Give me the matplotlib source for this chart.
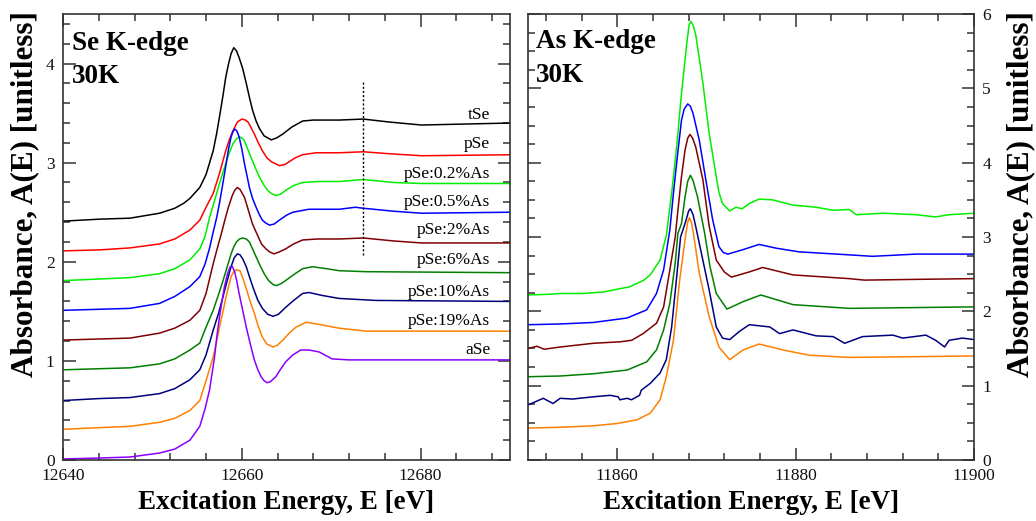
import matplotlib
matplotlib.use("Agg")
import matplotlib.pyplot as plt
from matplotlib.ticker import MultipleLocator

plt.rcParams['font.family'] = ['Liberation Serif', 'DejaVu Serif']

# ---------------- Se K-edge (left panel) ----------------
se_tSe_E = [12640, 12644.1, 12647.5, 12650.8, 12652.5, 12653.5, 12654.2, 12655.3, 12656.0, 12656.8, 12657.2,
            12657.5, 12657.9, 12658.2, 12658.5, 12658.8, 12659.1, 12659.4, 12659.7, 12660.1, 12660.5, 12660.85,
            12661.2, 12661.6, 12662.0, 12662.5, 12663.3, 12663.9, 12664.6, 12665.6, 12666.8, 12668.0, 12670.9,
            12673.6, 12676.5, 12680.1, 12690]
se_tSe_A = [2.41, 2.43, 2.44, 2.49, 2.54, 2.59, 2.64, 2.75, 2.88, 3.12, 3.30,
            3.46, 3.68, 3.86, 3.99, 4.10, 4.16, 4.13, 4.06, 3.95, 3.80, 3.66,
            3.53, 3.42, 3.34, 3.27, 3.23, 3.25, 3.29, 3.36, 3.42, 3.43, 3.43,
            3.44, 3.41, 3.38, 3.40]

se_pSe_E = [12640, 12644.1, 12647.5, 12650.8, 12652.5, 12654.2, 12655.3, 12656.0, 12656.8, 12657.5, 12658.2,
            12658.6, 12659.0, 12659.5, 12660.0, 12660.4, 12660.7, 12661.0, 12661.4, 12661.8, 12662.3, 12662.8,
            12663.3, 12664.2, 12664.8, 12665.3, 12666.0, 12666.8, 12668.3, 12670.9, 12673.6, 12676.5, 12680.1, 12690]
se_pSe_A = [2.11, 2.12, 2.14, 2.18, 2.23, 2.32, 2.42, 2.55, 2.69, 2.89, 3.12,
            3.23, 3.32, 3.41, 3.44, 3.43, 3.41, 3.36, 3.29, 3.21, 3.12, 3.05,
            3.01, 2.97, 2.98, 3.01, 3.05, 3.08, 3.10, 3.10, 3.11, 3.09, 3.07, 3.08]

se_p02_E = [12640, 12647.5, 12650.8, 12652.5, 12654.2, 12655.3, 12655.9, 12656.4, 12657.0, 12657.5, 12658.2,
            12658.6, 12659.0, 12659.4, 12659.7, 12660.0, 12660.3, 12660.6, 12661.0, 12661.5, 12662.0, 12662.5,
            12662.9, 12663.3, 12663.75, 12664.3, 12664.9, 12665.8, 12666.8, 12668.5, 12670.9, 12673.6, 12677.0,
            12680.1, 12690]
se_p02_A = [1.81, 1.84, 1.88, 1.93, 2.02, 2.13, 2.26, 2.45, 2.63, 2.79, 2.99,
            3.10, 3.19, 3.24, 3.26, 3.25, 3.22, 3.15, 3.06, 2.95, 2.85, 2.77,
            2.72, 2.69, 2.67, 2.68, 2.72, 2.77, 2.80, 2.81, 2.81, 2.83, 2.80,
            2.79, 2.79]

se_p05_E = [12640, 12647.5, 12650.8, 12652.5, 12654.2, 12655.3, 12655.9, 12656.4, 12656.8, 12657.2, 12657.5,
            12657.9, 12658.25, 12658.5, 12658.8, 12659.0, 12659.2, 12659.45, 12659.7, 12660.0, 12660.3, 12660.6,
            12660.85, 12661.2, 12661.6, 12662.0, 12662.3, 12662.7, 12663.1, 12663.6, 12664.2, 12665.0, 12665.7,
            12667.5, 12670.9, 12672.7, 12673.6, 12677.0, 12680.1, 12690]
se_p05_A = [1.51, 1.53, 1.58, 1.65, 1.75, 1.85, 1.98, 2.14, 2.30, 2.45, 2.59,
            2.80, 2.99, 3.13, 3.26, 3.31, 3.34, 3.32, 3.26, 3.14, 2.99, 2.86,
            2.75, 2.64, 2.55, 2.47, 2.42, 2.39, 2.37, 2.38, 2.42, 2.47, 2.50,
            2.53, 2.53, 2.55, 2.54, 2.51, 2.49, 2.50]

se_p2_E = [12640, 12647.5, 12650.8, 12652.5, 12654.2, 12655.3, 12656.0, 12656.8, 12657.3, 12657.7, 12658.1,
           12658.5, 12658.9, 12659.2, 12659.5, 12659.8, 12660.3, 12660.7, 12661.2, 12661.8, 12662.2, 12662.7,
           12663.1, 12663.6, 12664.2, 12664.9, 12665.8, 12666.8, 12668.5, 12670.9, 12673.6, 12677.0, 12680.1, 12690]
se_p2_A = [1.21, 1.23, 1.28, 1.33, 1.41, 1.51, 1.68, 1.98, 2.15, 2.28, 2.42,
           2.55, 2.66, 2.72, 2.75, 2.73, 2.65, 2.53, 2.38, 2.26, 2.18, 2.13,
           2.10, 2.08, 2.10, 2.13, 2.18, 2.22, 2.23, 2.23, 2.24, 2.21, 2.19, 2.19]

se_p6_E = [12640, 12647.5, 12650.8, 12652.5, 12654.2, 12655.3, 12656.0, 12656.8, 12657.4, 12657.9, 12658.4,
           12658.8, 12659.1, 12659.4, 12659.75, 12660.1, 12660.5, 12660.85, 12661.2, 12661.6, 12662.0, 12662.5,
           12663.0, 12663.5, 12663.9, 12664.4, 12664.9, 12665.8, 12666.8, 12667.9, 12669.5, 12670.9, 12673.9, 12690]
se_p6_A = [0.91, 0.93, 0.97, 1.02, 1.11, 1.18, 1.34, 1.51, 1.67, 1.81, 1.96,
           2.08, 2.15, 2.20, 2.23, 2.24, 2.23, 2.20, 2.13, 2.05, 1.97, 1.88,
           1.81, 1.77, 1.76, 1.78, 1.81, 1.87, 1.93, 1.95, 1.93, 1.91, 1.90, 1.89]

se_p10_E = [12640, 12644.1, 12647.5, 12650.8, 12652.5, 12654.2, 12655.3, 12656.0, 12656.8, 12657.4, 12657.9,
            12658.4, 12658.8, 12659.15, 12659.5, 12659.8, 12660.1, 12660.5, 12660.85, 12661.3, 12661.8, 12662.3,
            12662.9, 12663.5, 12664.1, 12664.9, 12665.8, 12666.8, 12667.5, 12669.0, 12670.9, 12675.0, 12690]
se_p10_A = [0.60, 0.62, 0.63, 0.67, 0.72, 0.81, 0.91, 1.06, 1.31, 1.48, 1.65,
            1.82, 1.95, 2.04, 2.08, 2.07, 2.03, 1.95, 1.85, 1.73, 1.61, 1.53,
            1.47, 1.45, 1.47, 1.54, 1.61, 1.68, 1.69, 1.66, 1.63, 1.61, 1.60]

se_p19_E = [12640, 12647.5, 12650.8, 12652.5, 12654.2, 12655.3, 12656.0, 12656.8, 12657.2, 12657.5, 12657.9,
            12658.25, 12658.55, 12658.8, 12659.1, 12659.4, 12659.8, 12660.1, 12660.5, 12660.9, 12661.4, 12661.8,
            12662.3, 12662.8, 12663.5, 12664.0, 12664.6, 12665.3, 12666.05, 12667.2, 12668.5, 12670.9, 12673.9, 12690]
se_p19_A = [0.31, 0.34, 0.38, 0.42, 0.50, 0.60, 0.80, 1.04, 1.20, 1.34, 1.50,
            1.65, 1.76, 1.85, 1.90, 1.92, 1.91, 1.84, 1.73, 1.61, 1.48, 1.36,
            1.24, 1.17, 1.14, 1.16, 1.21, 1.28, 1.34, 1.39, 1.37, 1.33, 1.30, 1.30]

se_aSe_E = [12640, 12644.1, 12647.5, 12650.8, 12652.5, 12654.2, 12655.3, 12655.9, 12656.4, 12656.95, 12657.2,
            12657.5, 12657.8, 12658.06, 12658.4, 12658.7, 12658.95, 12659.2, 12659.45, 12659.7, 12660.1, 12660.5,
            12660.95, 12661.4, 12661.8, 12662.15, 12662.5, 12662.8, 12663.2, 12663.8, 12664.3, 12664.9, 12665.7,
            12666.6, 12667.5, 12668.65, 12670.1, 12672.0, 12690]
se_aSe_A = [0.01, 0.02, 0.03, 0.07, 0.11, 0.20, 0.34, 0.52, 0.71, 1.04, 1.24,
            1.44, 1.61, 1.75, 1.88, 1.95, 1.95, 1.90, 1.80, 1.68, 1.51, 1.34,
            1.17, 1.01, 0.91, 0.84, 0.80, 0.78, 0.79, 0.84, 0.91, 0.99, 1.06,
            1.11, 1.11, 1.09, 1.02, 1.01, 1.01]

se_labels = ['tSe', 'pSe', 'pSe:0.2%As', 'pSe:0.5%As', 'pSe:2%As', 'pSe:6%As', 'pSe:10%As', 'pSe:19%As', 'aSe']
se_label_y = [3.48, 3.19, 2.89, 2.60, 2.32, 2.02, 1.70, 1.40, 1.11]
se_colors = ['#000000', '#ff0000', '#00ee00', '#0000ff', '#7f0000', '#007f00', '#00007f', '#ff8000', '#8a00ff']

# ---------------- As K-edge (right panel) ----------------
as_p02_E = [11850.0, 11852.4, 11853.6, 11856.1, 11858.4, 11861.4, 11863.0, 11863.7, 11864.8, 11865.5, 11866.1,
            11866.7, 11867.2, 11867.8, 11868.05, 11868.25, 11868.5, 11868.8, 11869.2, 11869.6, 11870.3, 11871.1,
            11871.4, 11871.8, 11872.6, 11873.3, 11874.0, 11874.8, 11875.9, 11877.4, 11879.7, 11882.3, 11884.2,
            11886.0, 11886.8, 11889.8, 11893.5, 11895.7, 11897.2, 11900.0]
as_p02_A = [2.22, 2.23, 2.24, 2.24, 2.26, 2.33, 2.42, 2.49, 2.69, 3.02, 3.59,
            4.26, 4.93, 5.61, 5.85, 5.90, 5.85, 5.72, 5.40, 5.07, 4.40, 3.81,
            3.60, 3.45, 3.35, 3.40, 3.38, 3.45, 3.51, 3.50, 3.43, 3.40, 3.36,
            3.37, 3.30, 3.32, 3.30, 3.27, 3.30, 3.32]

as_p05_E = [11850.0, 11853.6, 11857.3, 11861.1, 11863.3, 11864.4, 11865.2, 11865.9, 11866.3, 11866.7, 11867.2,
            11867.5, 11867.9, 11868.2, 11868.5, 11869.2, 11870.0, 11870.7, 11871.4, 11871.9, 11872.4, 11874.1,
            11875.9, 11877.8, 11880.4, 11886.0, 11888.6, 11893.5, 11900.0]
as_p05_A = [1.82, 1.83, 1.85, 1.91, 2.02, 2.24, 2.56, 3.10, 3.59, 4.04, 4.57,
            4.72, 4.79, 4.76, 4.66, 4.30, 3.72, 3.23, 2.87, 2.79, 2.77, 2.83,
            2.90, 2.85, 2.80, 2.76, 2.74, 2.77, 2.77]

as_p2_E = [11850.0, 11851.0, 11851.8, 11853.6, 11857.3, 11860.3, 11861.6, 11862.9, 11864.4, 11865.2, 11865.9,
           11866.5, 11866.8, 11867.2, 11867.6, 11867.9, 11868.15, 11868.45, 11868.8, 11869.6, 11870.3, 11871.1,
           11872.0, 11872.8, 11874.8, 11876.3, 11879.7, 11886.0, 11887.7, 11893.5, 11900.0]
as_p2_A = [1.50, 1.53, 1.49, 1.52, 1.57, 1.59, 1.61, 1.70, 1.84, 2.06, 2.56,
           3.00, 3.36, 3.81, 4.17, 4.33, 4.38, 4.33, 4.21, 3.77, 3.15, 2.69,
           2.53, 2.46, 2.53, 2.59, 2.49, 2.44, 2.42, 2.43, 2.44]

as_p6_E = [11850.0, 11853.6, 11857.3, 11861.1, 11863.3, 11864.4, 11865.2, 11865.9, 11866.5, 11866.8, 11867.2,
           11867.6, 11867.9, 11868.2, 11868.5, 11869.0, 11869.8, 11870.4, 11871.1, 11872.3, 11874.1, 11876.1,
           11879.7, 11886.0, 11900.0]
as_p6_A = [1.12, 1.13, 1.16, 1.21, 1.32, 1.48, 1.75, 2.11, 2.65, 3.05, 3.18,
           3.54, 3.75, 3.83, 3.76, 3.54, 3.05, 2.60, 2.24, 2.03, 2.13, 2.22,
           2.09, 2.04, 2.06]

as_p10_E = [11850.0, 11851.7, 11852.8, 11853.6, 11855.0, 11857.3, 11859.2, 11860.1, 11860.3, 11861.1, 11861.6,
            11862.5, 11862.7, 11863.7, 11864.8, 11865.5, 11866.1, 11866.7, 11867.1, 11867.7, 11868.0, 11868.2,
            11868.5, 11868.8, 11870.3, 11871.1, 11871.8, 11872.6, 11873.7, 11874.8, 11877.1, 11878.2, 11879.7,
            11882.3, 11884.2, 11885.5, 11887.5, 11890.9, 11892.0, 11894.6, 11895.7, 11896.7, 11897.2, 11898.7,
            11900.0]
as_p10_A = [0.74, 0.83, 0.76, 0.83, 0.82, 0.85, 0.87, 0.85, 0.81, 0.83, 0.81,
            0.87, 0.94, 1.03, 1.17, 1.35, 1.79, 2.51, 3.00, 3.22, 3.35, 3.38,
            3.30, 3.14, 2.29, 1.79, 1.64, 1.62, 1.73, 1.82, 1.79, 1.70, 1.75,
            1.67, 1.66, 1.57, 1.66, 1.68, 1.64, 1.68, 1.61, 1.52, 1.61, 1.64,
            1.62]

as_p19_E = [11850.0, 11853.6, 11857.3, 11859.9, 11862.2, 11863.7, 11864.8, 11865.5, 11866.3, 11867.0, 11867.7,
            11867.9, 11868.1, 11868.35, 11868.6, 11869.2, 11870.3, 11871.4, 11872.6, 11874.1, 11875.9, 11878.6,
            11881.5, 11886.0, 11893.5, 11900.0]
as_p19_A = [0.43, 0.44, 0.46, 0.49, 0.54, 0.63, 0.81, 1.12, 1.61, 2.42, 3.05,
            3.20, 3.26, 3.18, 3.00, 2.51, 1.93, 1.52, 1.35, 1.48, 1.56, 1.48,
            1.41, 1.38, 1.39, 1.40]

as_colors = ['#00ee00', '#0000ff', '#7f0000', '#007f00', '#00007f', '#ff8000']

se_E = [se_tSe_E, se_pSe_E, se_p02_E, se_p05_E, se_p2_E, se_p6_E, se_p10_E, se_p19_E, se_aSe_E]
se_A = [se_tSe_A, se_pSe_A, se_p02_A, se_p05_A, se_p2_A, se_p6_A, se_p10_A, se_p19_A, se_aSe_A]
as_E = [as_p02_E, as_p05_E, as_p2_E, as_p6_E, as_p10_E, as_p19_E]
as_A = [as_p02_A, as_p05_A, as_p2_A, as_p6_A, as_p10_A, as_p19_A]

marker_E = 12673.6
marker_A = [2.07, 3.81]

fig = plt.figure(figsize=(10.36, 5.21), dpi=100)
ax1 = fig.add_axes([0.0608, 0.1171, 0.4315, 0.856])
ax2 = fig.add_axes([0.5097, 0.1171, 0.4305, 0.856])

spine_col = '#333333'
for ax in (ax1, ax2):
    for s in ax.spines.values():
        s.set_color(spine_col)
        s.set_linewidth(1.2)
    ax.tick_params(which='both', direction='in', top=True, right=True, left=True, bottom=True,
                   colors=spine_col, labelcolor='#111111', labelsize=12.5, width=1.1)
    ax.tick_params(which='major', length=9, pad=6)
    ax.tick_params(which='minor', length=5)
    ax.xaxis.set_minor_locator(MultipleLocator(4))
    ax.xaxis.set_major_locator(MultipleLocator(20))
    ax.set_xlabel('Excitation Energy, E [eV]', fontsize=19.5, fontweight='bold')
    ax.xaxis.set_label_coords(0.5, -0.068)
    ax.set_ylabel('Absorbance, A(E) [unitless]', fontsize=22.4, fontweight='bold')

# left
for E, A, c in zip(se_E, se_A, se_colors):
    ax1.plot(E, A, color=c, lw=1.1)
for lab, y in zip(se_labels, se_label_y):
    ax1.text(12687.8, y, lab, ha='right', va='center', fontsize=12.5)
ax1.plot([marker_E, marker_E], marker_A, color='black', lw=1.0, ls=(0, (1.5, 1.5)))
ax1.set_xlim(12640, 12690)
ax1.set_ylim(0, 4.5)
ax1.yaxis.set_major_locator(MultipleLocator(1))
ax1.yaxis.set_minor_locator(MultipleLocator(0.2))
ax1.yaxis.set_label_coords(-0.053, 0.596)
ax1.text(0.0195, 0.919, 'Se K-edge', transform=ax1.transAxes, fontsize=19.5, fontweight='bold', va='baseline')
ax1.text(0.0195, 0.845, '30K', transform=ax1.transAxes, fontsize=19.5, fontweight='bold', va='baseline')

# right
for E, A, c in zip(as_E, as_A, as_colors):
    ax2.plot(E, A, color=c, lw=1.1)
ax2.set_xlim(11850, 11900)
ax2.set_ylim(0, 6)
ax2.yaxis.set_major_locator(MultipleLocator(1))
ax2.yaxis.set_minor_locator(MultipleLocator(0.25))
ax2.tick_params(axis='y', which='both', labelleft=False, labelright=True)
ax2.yaxis.set_label_position('right')
ax2.yaxis.set_label_coords(1.072, 0.596)
ax2.text(0.018, 0.924, 'As K-edge', transform=ax2.transAxes, fontsize=19.5, fontweight='bold', va='baseline')
ax2.text(0.018, 0.848, '30K', transform=ax2.transAxes, fontsize=19.5, fontweight='bold', va='baseline')

fig.savefig('out.png', dpi=100)
